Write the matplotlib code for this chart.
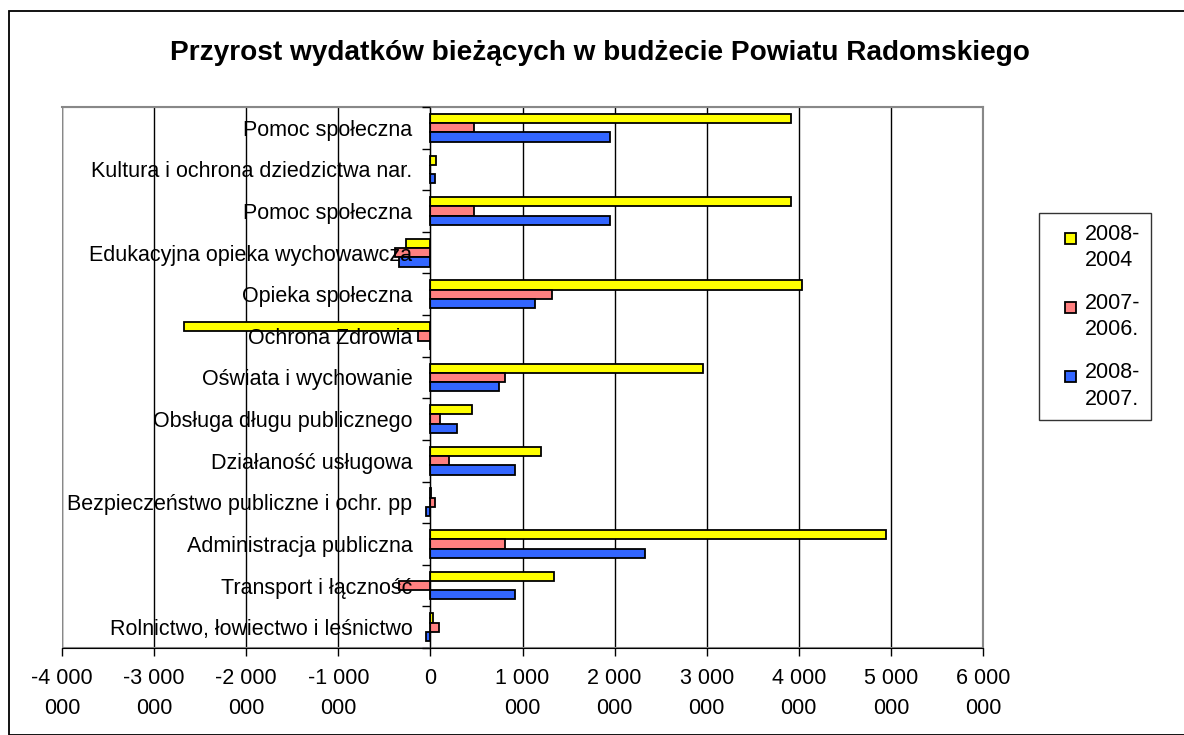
import numpy as np
import matplotlib.pyplot as plt
from matplotlib.patches import Rectangle
from matplotlib.container import BarContainer
from matplotlib.legend_handler import HandlerPatch, update_from_first_child

plt.rcParams['font.family'] = ['Liberation Sans', 'DejaVu Sans']

categories = [
    'Rolnictwo, łowiectwo i leśnictwo',
    'Transport i łączność',
    'Administracja publiczna',
    'Bezpieczeństwo publiczne i ochr. pp',
    'Działaność usługowa',
    'Obsługa długu publicznego',
    'Oświata i wychowanie',
    'Ochrona Zdrowia',
    'Opieka społeczna',
    'Edukacyjna opieka wychowawcza',
    'Pomoc społeczna',
    'Kultura i ochrona dziedzictwa nar.',
    'Pomoc społeczna',
]
series_names = ['2008-\n2004', '2007-\n2006.', '2008-\n2007.']
# values in PLN, bottom category first
v_2008_2004 = [30000, 1340000, 4950000, 10000, 1200000, 450000, 2960000,
               -2680000, 4030000, -270000, 3920000, 65000, 3920000]
v_2007_2006 = [90000, -340000, 810000, 55000, 200000, 100000, 810000,
               -140000, 1320000, -380000, 470000, 0, 470000]
v_2008_2007 = [-50000, 920000, 2330000, -50000, 920000, 290000, 750000,
               0, 1140000, -340000, 1950000, 50000, 1950000]
colors = ['#FFFF00', '#FF8080', '#3366FF']
xticks = list(range(-4000000, 6000001, 1000000))

FS = 15.5


def fmt(v):
    s = f'{v:,}'.replace(',', ' ')
    if ' ' in s:
        a, b = s.rsplit(' ', 1)
        return a + '\n' + b
    return s


def legend_box(legend, orig_handle, xdescent, ydescent, width, height, fontsize):
    # small square aligned with the first line of the label
    side = 0.48 * fontsize
    return Rectangle((-xdescent + width - side, -ydescent + (height - side) / 2 + 0.45 * fontsize),
                     side, side)


W, H = 1184, 735
fig = plt.figure(figsize=(W / 100, H / 100), dpi=100)
fig.patches.append(Rectangle((9 / W, 0), 1.2, 1 - 11 / H, transform=fig.transFigure,
                             fill=False, edgecolor='black', linewidth=1.3))

ax = fig.add_axes([62 / W, 1 - 648 / H, (983 - 62) / W, (648 - 107) / H])

y = np.arange(len(categories))
h = 0.222
for i, vals in enumerate([v_2008_2004, v_2007_2006, v_2008_2007]):
    ax.barh(y + h * (1 - i), vals, height=h, color=colors[i], edgecolor='black',
            linewidth=1.3, zorder=2, label=series_names[i])

for t in xticks:
    ax.axvline(t, color='black', linewidth=1, zorder=0.5)

ax.set_xlim(xticks[0], xticks[-1])
ax.set_ylim(-0.5, len(categories) - 0.5)
ax.set_xticks(xticks)
ax.set_xticklabels([fmt(t) for t in xticks], fontsize=FS, linespacing=1.58)
ax.tick_params(axis='x', direction='out', length=6, width=1, pad=8.5)

ax.spines['left'].set_position(('data', 0))
ax.spines['left'].set_color('black')
ax.spines['bottom'].set_color('black')
ax.spines['top'].set_color('#888888')
ax.spines['right'].set_color('#888888')
ax.spines['top'].set_linewidth(1.5)
ax.spines['right'].set_linewidth(1.5)
ax.add_patch(Rectangle((0, 0), 1, 1, transform=ax.transAxes, fill=False,
                       edgecolor='#888888', linewidth=1.5, zorder=0.6))

ax.set_yticks(y)
ax.set_yticklabels(categories, fontsize=FS)
ax.set_yticks(np.arange(len(categories) + 1) - 0.5, minor=True)
ax.tick_params(axis='y', which='major', length=0, pad=13)
ax.tick_params(axis='y', which='minor', direction='out', length=6, width=1)
ax.yaxis.set_zorder(5)

fig.text(600 / W, 1 - 53 / H, 'Przyrost wydatków bieżących w budżecie Powiatu Radomskiego',
         ha='center', va='center', fontsize=20.2, fontweight='bold')

handler = HandlerPatch(patch_func=legend_box, update_func=update_from_first_child)
leg = fig.legend(loc='upper left', bbox_to_anchor=(1039 / W, 1 - 213 / H),
                 fontsize=FS, frameon=True, fancybox=False, edgecolor='black',
                 handlelength=1.2, handleheight=0.7, handletextpad=0.42,
                 labelspacing=1.0, borderpad=0.5, borderaxespad=0,
                 handler_map={BarContainer: handler})
leg.get_frame().set_linewidth(1)
for t in leg.get_texts():
    t.set_linespacing(1.35)

fig.savefig('out.png', dpi=100)
